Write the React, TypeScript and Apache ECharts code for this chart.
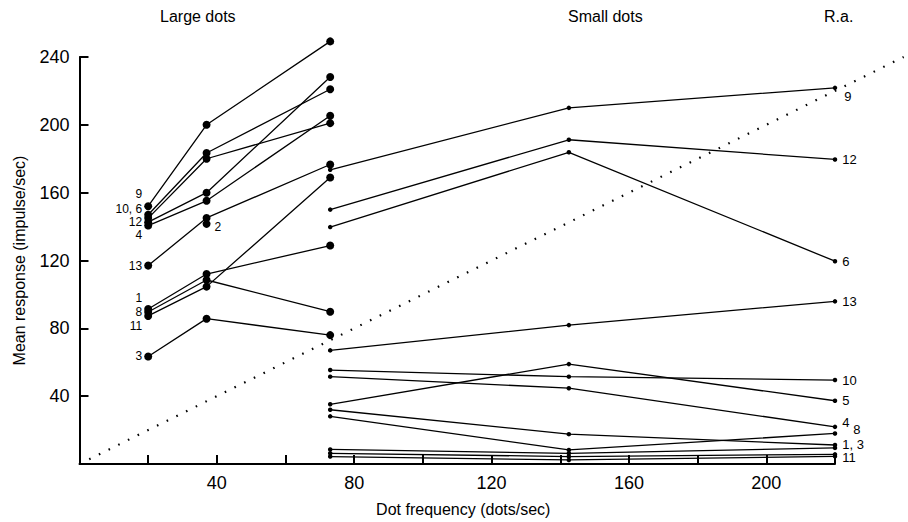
import React, { useEffect, useRef } from "react";
import * as echarts from "echarts";

const FONT = "'Liberation Sans', Arial, Helvetica, sans-serif";

// x positions (dots/sec) of the measured columns
const xLarge = [20, 37, 73];
const xSmall = [73, 142.5, 220];

// Large dots (cell ids and responses at each frequency)
const largeCells = ["9", "10", "6", "12", "4", "13", "1", "8", "11", "3"];
const largeAt20 = [152, 147, 145, 142.6, 140.6, 117, 91.4, 89.6, 87.3, 63.4];
const largeAt37 = [200, 183.4, 180, 160, 155.2, 145.1, 112, 108.5, 104.6, 85.7];
const largeAt73 = [249.2, 221, 201, 228.2, 205.4, 176.6, 128.8, 89.8, 168.9, 76];
const largeLoneCell = "2";
const largeLoneAt37 = 141.6;

// Small dots
const smallCells = ["9", "12", "6", "13", "10", "5", "4", "8", "1", "3", "11", "2"];
const smallAt73 = [173.5, 150, 139.7, 67, 55.4, 35.2, 51.5, 28.1, 32, 8.6, 6.3, 4.4];
const smallAt142 = [210, 191.2, 183.8, 81.9, 51.5, 58.9, 44.7, 8.3, 17.6, 6.3, 4.4, 2.4];
const smallAt220 = [221.8, 179.6, 119.6, 95.9, 49.5, 37.3, 21.9, 18, 11.2, 9.5, 5.7, 4.5];

// identity reference line (response = frequency), from / to
const diagonal = [0, 240];

// label text / nudges (styles, not data)
const leftLabels: Record<string, { text: string; dy: number }> = {
  "9": { text: "9", dy: -12 },
  "10": { text: "10, 6", dy: -6 },
  "12": { text: "12", dy: 0 },
  "4": { text: "4", dy: 9 },
  "13": { text: "13", dy: 0 },
  "1": { text: "1", dy: -11 },
  "8": { text: "8", dy: 0 },
  "11": { text: "11", dy: 10 },
  "3": { text: "3", dy: 0 },
};
const rightLabels: Record<string, { text: string; dx: number; dy: number }> = {
  "9": { text: "9", dx: 2, dy: 9 },
  "12": { text: "12", dx: 0, dy: 0 },
  "6": { text: "6", dx: 0, dy: 0 },
  "13": { text: "13", dx: 0, dy: 0 },
  "10": { text: "10", dx: 0, dy: 0 },
  "5": { text: "5", dx: 0, dy: 0 },
  "4": { text: "4", dx: 0, dy: -4 },
  "8": { text: "8", dx: 11, dy: -4 },
  "1": { text: "1, 3", dx: 0, dy: -1 },
  "11": { text: "11", dx: 0, dy: 3 },
};

const leftLabelStyle = { color: "#000", fontSize: 12, fontFamily: FONT };
const rightLabelStyle = { color: "#000", fontSize: 13, fontFamily: FONT };
const lineStyle = { color: "#000", width: 1.3 };

function buildOption() {
  const series: any[] = [];

  largeCells.forEach((cell, i) => {
    const ys = [largeAt20[i], largeAt37[i], largeAt73[i]];
    const lab = leftLabels[cell];
    series.push({
      type: "line",
      name: "L" + cell,
      clip: false,
      symbol: "circle",
      symbolSize: 8,
      showSymbol: true,
      itemStyle: { color: "#000" },
      lineStyle,
      data: ys.map((y, j) => {
        const item: any = { value: [xLarge[j], y] };
        if (j === 0 && lab) {
          item.label = {
            show: true,
            position: "left",
            distance: 2,
            formatter: lab.text,
            offset: [0, lab.dy],
            ...leftLabelStyle,
          };
        }
        return item;
      }),
      z: 3,
    });
  });

  series.push({
    type: "line",
    name: "L" + largeLoneCell,
    clip: false,
    symbol: "circle",
    symbolSize: 8,
    itemStyle: { color: "#000" },
    lineStyle,
    data: [
      {
        value: [xLarge[1], largeLoneAt37],
        label: {
          show: true,
          position: "right",
          distance: 4,
          formatter: largeLoneCell,
          offset: [0, 3],
          ...leftLabelStyle,
        },
      },
    ],
    z: 3,
  });

  smallCells.forEach((cell, i) => {
    const ys = [smallAt73[i], smallAt142[i], smallAt220[i]];
    const lab = rightLabels[cell];
    series.push({
      type: "line",
      name: "S" + cell,
      clip: false,
      symbol: "circle",
      symbolSize: 4.5,
      showSymbol: true,
      itemStyle: { color: "#000" },
      lineStyle,
      data: ys.map((y, j) => {
        const item: any = { value: [xSmall[j], y] };
        if (j === 2 && lab) {
          item.label = {
            show: true,
            position: "right",
            distance: 5,
            formatter: lab.text,
            offset: [lab.dx, lab.dy],
            ...rightLabelStyle,
          };
        }
        return item;
      }),
      z: 3,
    });
  });

  return {
    animation: false,
    backgroundColor: "#fff",
    textStyle: { fontFamily: FONT },
    grid: { left: 79.5, right: 73, top: 57, bottom: 54.5, containLabel: false },
    graphic: [
      { type: "text", left: 160, top: 8, style: { text: "Large dots", fontSize: 16, fill: "#000", fontFamily: FONT } },
      { type: "text", left: 568, top: 8, style: { text: "Small dots", fontSize: 16, fill: "#000", fontFamily: FONT } },
      { type: "text", left: 824, top: 8, style: { text: "R.a.", fontSize: 16, fill: "#000", fontFamily: FONT } },
    ],
    xAxis: {
      type: "value",
      min: 0,
      max: 220,
      interval: 20,
      name: "Dot frequency (dots/sec)",
      nameLocation: "middle",
      nameGap: 37,
      nameTextStyle: { fontSize: 16, color: "#000", fontFamily: FONT, padding: [0, 0, 0, 12] },
      axisLine: { onZero: false, lineStyle: { color: "#000", width: 2 } },
      axisTick: { inside: true, length: 9, lineStyle: { color: "#000", width: 2 } },
      axisLabel: {
        color: "#000",
        fontSize: 18,
        fontFamily: FONT,
        margin: 10,
        formatter: (v: number) => (v > 0 && v % 40 === 0 ? String(v) : ""),
      },
      splitLine: { show: false },
    },
    yAxis: {
      type: "value",
      min: 0,
      max: 240,
      interval: 40,
      name: "Mean response (impulse/sec)",
      nameLocation: "middle",
      nameGap: 52,
      nameTextStyle: { fontSize: 16, color: "#000", fontFamily: FONT },
      axisLine: { onZero: false, lineStyle: { color: "#000", width: 2 } },
      axisTick: { inside: true, length: 9, lineStyle: { color: "#000", width: 2 } },
      axisLabel: {
        color: "#000",
        fontSize: 18,
        fontFamily: FONT,
        margin: 10,
        formatter: (v: number) => (v > 0 ? String(v) : ""),
      },
      splitLine: { show: false },
    },
    series,
  };
}

export default function App() {
  const ref = useRef<HTMLDivElement>(null);
  useEffect(() => {
    if (!ref.current) return;
    const chart = echarts.init(ref.current, null, { renderer: "svg" });
    const option: any = buildOption();
    chart.setOption(option);
    // identity line drawn through the chart's own scales (extends past the x-axis end)
    const p0 = chart.convertToPixel({ gridIndex: 0 }, [diagonal[0], diagonal[0]]) as number[];
    const p1 = chart.convertToPixel({ gridIndex: 0 }, [diagonal[1], diagonal[1]]) as number[];
    chart.setOption({
      graphic: [
        ...option.graphic,
        {
          type: "line",
          z: 1,
          silent: true,
          shape: { x1: p0[0], y1: p0[1], x2: p1[0], y2: p1[1] },
          style: { stroke: "#000", lineWidth: 2.2, lineDash: [1.6, 9.2] },
        },
      ],
    });
    return () => chart.dispose();
  }, []);
  return (
    <div
      ref={ref}
      style={{ position: "fixed", left: 0, top: 0, width: 908, height: 522, background: "#fff" }}
    />
  );
}
